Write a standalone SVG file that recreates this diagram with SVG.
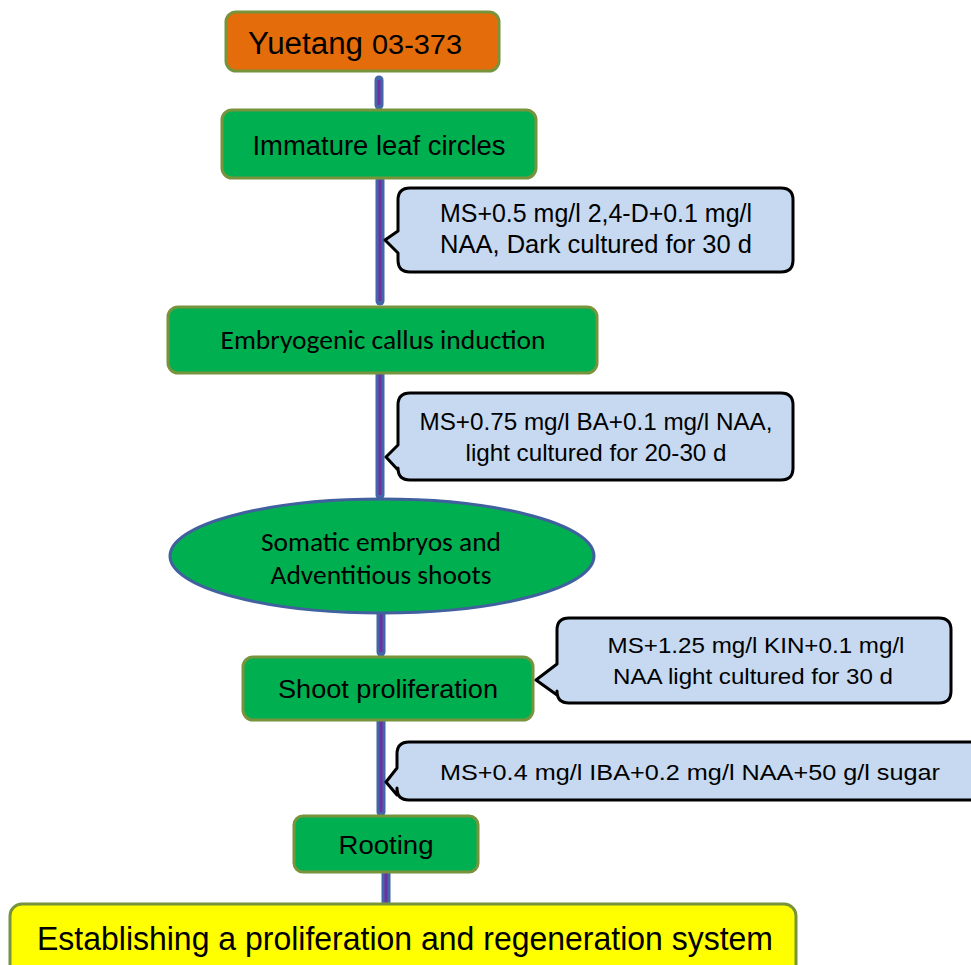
<svg xmlns="http://www.w3.org/2000/svg" width="971" height="965" viewBox="0 0 971 965">
<style>
.box{stroke:#77933C;stroke-width:3}
.green{fill:#00B050}
.call{fill:#C6D9F1;stroke:#000;stroke-width:3;stroke-linejoin:round}
.t{font-family:"Liberation Sans",Arial,sans-serif;fill:#000;text-anchor:middle}
.c{font-family:Carlito,Calibri,Lato,"Open Sans","Liberation Sans",sans-serif;fill:#000;text-anchor:middle}
.lo{stroke:#4366A8;stroke-width:9;stroke-linecap:round}
.li{stroke:#7030A0;stroke-width:3}
</style>
<rect width="971" height="965" fill="#fff"/>
<g id="connectors">
<line class="lo" x1="379" y1="80" x2="379" y2="105"/><line class="li" x1="379" y1="80" x2="379" y2="105"/>
<line class="lo" x1="380" y1="180" x2="380" y2="301"/><line class="li" x1="380" y1="180" x2="380" y2="301"/>
<line class="lo" x1="380" y1="374" x2="380" y2="495"/><line class="li" x1="380" y1="374" x2="380" y2="495"/>
<line class="lo" x1="381" y1="614" x2="381" y2="652"/><line class="li" x1="381" y1="614" x2="381" y2="652"/>
<line class="lo" x1="381" y1="721" x2="381" y2="812"/><line class="li" x1="381" y1="721" x2="381" y2="812"/>
<line class="lo" x1="386" y1="873" x2="386" y2="902"/><line class="li" x1="386" y1="873" x2="386" y2="902"/>
</g>
<g id="yuetang">
<rect class="box" x="226" y="12" width="273" height="59" rx="10" fill="#E46C0A"/>
<text x="248" y="54" font-family="Liberation Sans,Arial,sans-serif" font-size="31" textLength="115" lengthAdjust="spacingAndGlyphs">Yuetang</text>
<text x="372" y="54" font-family="Liberation Sans,Arial,sans-serif" font-size="28" textLength="90" lengthAdjust="spacingAndGlyphs">03-373</text>
</g>
<g id="leaf">
<rect class="box green" x="222" y="110" width="314" height="68" rx="10"/>
<text class="t" x="379" y="155" font-size="27" textLength="253" lengthAdjust="spacingAndGlyphs">Immature leaf circles</text>
</g>
<g id="callout1">
<path class="call" d="M410 188 H781 Q793 188 793 200 V260 Q793 272 781 272 H410 Q398 272 398 260 V253 L385 240 L398 231 V200 Q398 188 410 188 Z"/>
<text class="t" x="596" y="222" font-size="25" textLength="312" lengthAdjust="spacingAndGlyphs">MS+0.5 mg/l 2,4-D+0.1 mg/l</text>
<text class="t" x="596" y="253" font-size="25" textLength="312" lengthAdjust="spacingAndGlyphs">NAA, Dark cultured for 30 d</text>
</g>
<g id="callus">
<rect class="box green" x="168" y="307" width="429" height="66" rx="10"/>
<text class="c" x="383" y="349" font-size="27" textLength="325" lengthAdjust="spacingAndGlyphs">Embryogenic callus induction</text>
</g>
<g id="callout2">
<path class="call" d="M410 393 H781 Q793 393 793 405 V468 Q793 480 781 480 H410 Q398 480 398 468 V470 L386 457 L398 445 V405 Q398 393 410 393 Z"/>
<text class="t" x="596" y="430" font-size="24" textLength="353" lengthAdjust="spacingAndGlyphs">MS+0.75 mg/l BA+0.1 mg/l NAA,</text>
<text class="t" x="596" y="461" font-size="24" textLength="261" lengthAdjust="spacingAndGlyphs">light cultured for 20-30 d</text>
</g>
<g id="somatic">
<ellipse cx="382" cy="556" rx="212" ry="57" fill="#00B050" stroke="#41609E" stroke-width="3"/>
<text class="c" x="381" y="551" font-size="27" textLength="240" lengthAdjust="spacingAndGlyphs">Somatic embryos and</text>
<text class="c" x="381" y="584" font-size="27" textLength="221" lengthAdjust="spacingAndGlyphs">Adventitious shoots</text>
</g>
<g id="shoot">
<rect class="box green" x="243" y="657" width="290" height="63" rx="10"/>
<text class="t" x="388" y="698" font-size="25" textLength="220" lengthAdjust="spacingAndGlyphs">Shoot proliferation</text>
</g>
<g id="callout3">
<path class="call" d="M569 618 H939 Q951 618 951 630 V691 Q951 703 939 703 H569 Q557 703 557 691 V695 L536 680 L557 664 V630 Q557 618 569 618 Z"/>
<text class="t" x="756" y="653" font-size="22" textLength="297" lengthAdjust="spacingAndGlyphs">MS+1.25 mg/l KIN+0.1 mg/l</text>
<text class="t" x="753" y="684" font-size="22" textLength="280" lengthAdjust="spacingAndGlyphs">NAA light cultured for 30 d</text>
</g>
<g id="callout4">
<path class="call" d="M409 742 H985 V800 H409 Q397 800 397 788 V795 L386 782 L397 768 V754 Q397 742 409 742 Z"/>
<text x="440" y="780" font-family="Liberation Sans,Arial,sans-serif" font-size="22" textLength="500" lengthAdjust="spacingAndGlyphs">MS+0.4 mg/l IBA+0.2 mg/l NAA+50 g/l sugar</text>
</g>
<g id="rooting">
<rect class="box green" x="294" y="816" width="184" height="56" rx="9"/>
<text class="t" x="386" y="854" font-size="25" textLength="95" lengthAdjust="spacingAndGlyphs">Rooting</text>
</g>
<g id="establish">
<rect class="box" x="10" y="904" width="786" height="75" rx="12" fill="#FFFF00"/>
<text x="37" y="950" font-family="Liberation Sans,Arial,sans-serif" font-size="33" textLength="736" lengthAdjust="spacingAndGlyphs">Establishing a proliferation and regeneration system</text>
</g>
</svg>
